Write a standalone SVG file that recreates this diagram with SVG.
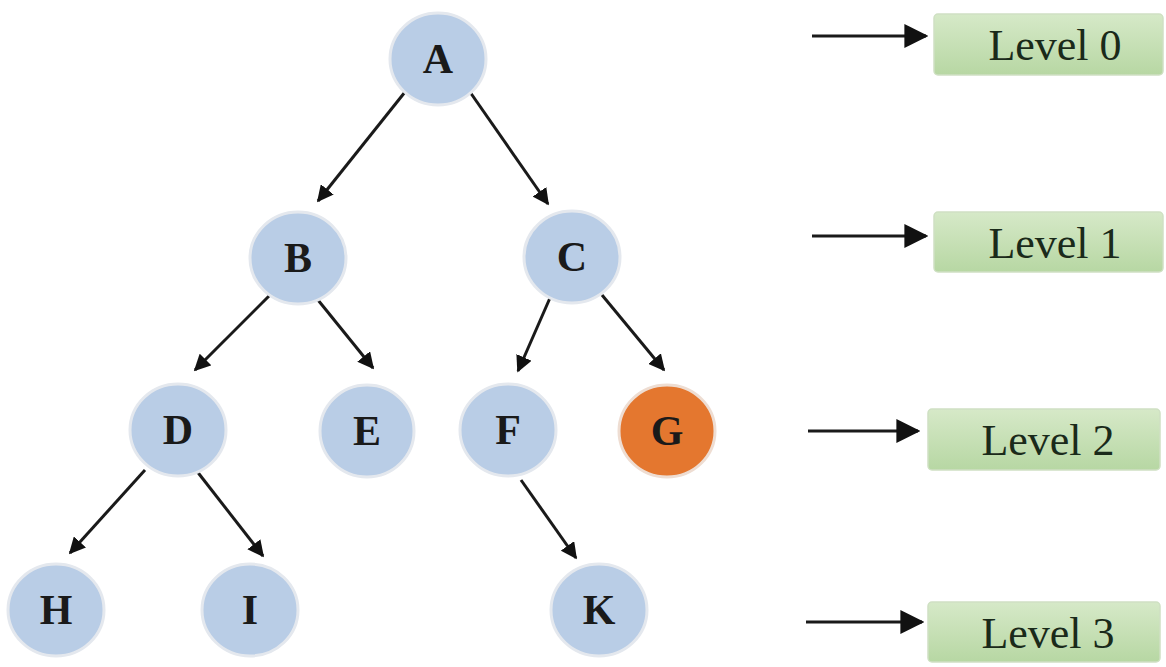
<svg xmlns="http://www.w3.org/2000/svg" width="1166" height="667" viewBox="0 0 1166 667">
<defs>
<marker id="ah" viewBox="0 0 10 10" refX="9" refY="5" markerWidth="5.5" markerHeight="5.5" orient="auto" markerUnits="strokeWidth">
<path d="M0,0 L10,5 L0,10 z" fill="#111"/>
</marker>
<marker id="ahb" viewBox="0 0 10 10" refX="9" refY="5" markerWidth="8" markerHeight="8" orient="auto" markerUnits="strokeWidth">
<path d="M0,0 L10,5 L0,10 z" fill="#111"/>
</marker>
<linearGradient id="gb" x1="0" y1="0" x2="0" y2="1">
<stop offset="0" stop-color="#d6e9c8"/>
<stop offset="1" stop-color="#b7d7a3"/>
</linearGradient>
<style>
.n{fill:#b9cde6;stroke:#e4e8ee;stroke-width:3}
.g{fill:#e4772f;stroke:#eeddd2;stroke-width:3}
.t{font-family:"Liberation Serif",serif;font-weight:bold;font-size:42px;fill:#1a1a1a;text-anchor:middle}
.b{fill:url(#gb);stroke:#cfe0c3;stroke-width:1.5}
.lt{font-family:"Liberation Serif",serif;font-size:44px;fill:#1a2a1a;text-anchor:middle}
.e{stroke:#1a1a1a;stroke-width:3;fill:none;marker-end:url(#ah)}
.el{stroke:#1a1a1a;stroke-width:3;fill:none;marker-end:url(#ahb)}
</style>
</defs>
<rect width="1166" height="667" fill="#fff"/>
<g id="connectors">
<line class="e" x1="405" y1="92" x2="318" y2="201"/>
<line class="e" x1="470" y1="92" x2="548" y2="204"/>
<line class="e" x1="270" y1="295" x2="195" y2="370"/>
<line class="e" x1="318" y1="300" x2="373" y2="368"/>
<line class="e" x1="550" y1="298" x2="518" y2="371"/>
<line class="e" x1="602" y1="295" x2="664" y2="370"/>
<line class="e" x1="145" y1="470" x2="70" y2="553"/>
<line class="e" x1="196" y1="470" x2="263" y2="556"/>
<line class="e" x1="521" y1="480" x2="576" y2="558"/>
<line class="el" x1="812" y1="36" x2="926" y2="36"/>
<line class="el" x1="812" y1="236" x2="926" y2="236"/>
<line class="el" x1="808" y1="431" x2="918" y2="431"/>
<line class="el" x1="806" y1="622" x2="922" y2="622"/>
</g>
<g id="A"><ellipse class="n" cx="438" cy="59" rx="48" ry="46"/><text class="t" x="438" y="73">A</text></g>
<g id="B"><ellipse class="n" cx="298" cy="258" rx="48" ry="46"/><text class="t" x="298" y="272">B</text></g>
<g id="C"><ellipse class="n" cx="572" cy="257" rx="48" ry="46"/><text class="t" x="572" y="271">C</text></g>
<g id="D"><ellipse class="n" cx="178" cy="430" rx="48" ry="46"/><text class="t" x="178" y="444">D</text></g>
<g id="E"><ellipse class="n" cx="367" cy="431" rx="47" ry="46"/><text class="t" x="367" y="445">E</text></g>
<g id="F"><ellipse class="n" cx="508" cy="430" rx="48" ry="46"/><text class="t" x="508" y="444">F</text></g>
<g id="G"><ellipse class="g" cx="667" cy="431" rx="48" ry="46"/><text class="t" x="667" y="445">G</text></g>
<g id="H"><ellipse class="n" cx="56" cy="610" rx="48" ry="46"/><text class="t" x="56" y="624">H</text></g>
<g id="I"><ellipse class="n" cx="250" cy="610" rx="48" ry="46"/><text class="t" x="250" y="624">I</text></g>
<g id="K"><ellipse class="n" cx="599" cy="610" rx="48" ry="46"/><text class="t" x="599" y="624">K</text></g>
<g id="L0"><rect class="b" x="934" y="14" width="229" height="61" rx="4"/><text class="lt" x="1055" y="60">Level 0</text></g>
<g id="L1"><rect class="b" x="934" y="212" width="229" height="60" rx="4"/><text class="lt" x="1055" y="258">Level 1</text></g>
<g id="L2"><rect class="b" x="928" y="409" width="232" height="61" rx="4"/><text class="lt" x="1048" y="455">Level 2</text></g>
<g id="L3"><rect class="b" x="928" y="602" width="232" height="60" rx="4"/><text class="lt" x="1048" y="648">Level 3</text></g>
</svg>
